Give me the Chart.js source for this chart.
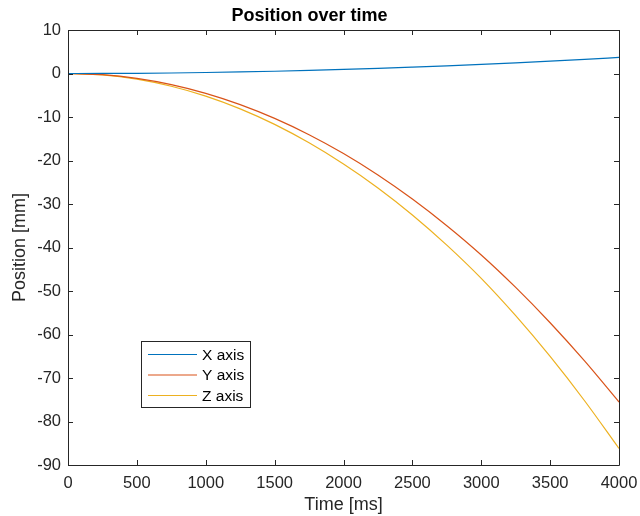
<!DOCTYPE html>
<html>
<head>
<meta charset="utf-8">
<script src="https://cdn.jsdelivr.net/npm/chart.js@4"></script>
<style>
html,body{margin:0;padding:0;background:#fff;}
#wrap{width:640px;height:516px;position:relative;}
</style>
</head>
<body>
<div id="wrap"><canvas id="c" width="640" height="516"></canvas></div>
<script>
const times = [0,250,500,750,1000,1250,1500,1750,2000,2250,2500,2750,3000,3250,3500,3750,4000];
const xAxisPos = [0,0.01,0.05,0.12,0.23,0.36,0.52,0.71,0.93,1.17,1.45,1.75,2.08,2.44,2.83,3.25,3.7];
const yAxisPos = [0,-0.27,-1.12,-2.55,-4.56,-7.15,-10.32,-14.07,-18.4,-23.33,-28.86,-34.99,-41.72,-49.18,-57.3,-66.08,-75.52];
const zAxisPos = [0,-0.33,-1.3,-2.93,-5.2,-8.13,-11.7,-15.93,-20.8,-26.3,-32.51,-39.45,-47.1,-55.68,-65.05,-75.23,-86.2];
const seriesNames = ['X axis','Y axis','Z axis'];
const seriesColors = ['#0072BD','#D95319','#EDB120'];
const xTicks = [0,500,1000,1500,2000,2500,3000,3500,4000];
const yTicks = [10,0,-10,-20,-30,-40,-50,-60,-70,-80,-90];

const axisColor = '#262626';
const FONT = '"Liberation Sans", Arial, Helvetica, sans-serif';

function pts(vals){ return times.map((t,i)=>({x:t,y:vals[i]})); }

const boxPlugin = {
  id:'boxPlugin',
  afterDatasetsDraw(chart){
    const {ctx, chartArea:a, scales} = chart;
    ctx.save();
    ctx.strokeStyle = axisColor;
    ctx.lineWidth = 1;
    ctx.beginPath();
    ctx.rect(Math.round(a.left)+0.5, Math.round(a.top)+0.5, Math.round(a.right-a.left), Math.round(a.bottom-a.top));
    ctx.stroke();
    const tl = 5;
    ctx.beginPath();
    xTicks.forEach(v=>{
      const px = Math.round(scales.x.getPixelForValue(v))+0.5;
      ctx.moveTo(px, a.bottom); ctx.lineTo(px, a.bottom - tl);
      ctx.moveTo(px, a.top); ctx.lineTo(px, a.top + tl);
    });
    yTicks.forEach(v=>{
      const py = Math.round(scales.y.getPixelForValue(v))+0.5;
      ctx.moveTo(a.left, py); ctx.lineTo(a.left + tl, py);
      ctx.moveTo(a.right, py); ctx.lineTo(a.right - tl, py);
    });
    ctx.stroke();
    // legend
    const lx = a.left + 73, ly = 341, lw = 109, lh = 66;
    ctx.fillStyle = '#fff';
    ctx.fillRect(lx, ly, lw, lh);
    ctx.strokeStyle = axisColor;
    ctx.strokeRect(lx+0.5, ly+0.5, lw, lh);
    ctx.font = '15.5px ' + FONT;
    ctx.textBaseline = 'middle';
    ctx.textAlign = 'left';
    seriesNames.forEach((n,i)=>{
      const yy = ly + 13.5 + i*20.5;
      ctx.strokeStyle = seriesColors[i];
      ctx.lineWidth = 1.2;
      ctx.beginPath();
      ctx.moveTo(lx+7, yy); ctx.lineTo(lx+56, yy);
      ctx.stroke();
      ctx.fillStyle = '#000';
      ctx.fillText(n, lx+61, yy+1);
    });
    ctx.restore();
  }
};

new Chart(document.getElementById('c'), {
  type:'line',
  data:{
    datasets:[
      {label:seriesNames[0], data:pts(xAxisPos), borderColor:seriesColors[0]},
      {label:seriesNames[1], data:pts(yAxisPos), borderColor:seriesColors[1]},
      {label:seriesNames[2], data:pts(zAxisPos), borderColor:seriesColors[2]}
    ].map(d=>Object.assign(d,{borderWidth:1.2, pointRadius:0, fill:false, cubicInterpolationMode:'monotone'}))
  },
  options:{
    responsive:false,
    animation:false,
    devicePixelRatio:1,
    layout:{padding:{left:0,right:21,top:0,bottom:0}},
    plugins:{
      legend:{display:false},
      tooltip:{enabled:false},
      title:{display:true, text:'Position over time', color:'#000',
        font:{family:FONT, size:18, weight:'bold'}, padding:{top:5,bottom:3.4}}
    },
    scales:{
      x:{type:'linear', min:0, max:4000,
        afterFit(s){ s.height = 51; s.paddingLeft = 0; s.paddingRight = 0; },
        afterBuildTicks(s){ s.ticks = xTicks.map(v=>({value:v})); },
        grid:{display:false, drawTicks:false}, border:{display:false},
        ticks:{color:axisColor, padding:9, maxRotation:0, autoSkip:false, font:{family:FONT,size:16.5},
          callback:(v)=>String(v)},
        title:{display:true, text:'Time [ms]', color:axisColor, font:{family:FONT,size:18}, padding:{top:0,bottom:0}}
      },
      y:{type:'linear', min:-90, max:10,
        afterFit(s){ s.width = 68; s.paddingTop = 0; s.paddingBottom = 0; },
        afterBuildTicks(s){ s.ticks = yTicks.map(v=>({value:v})); },
        grid:{display:false, drawTicks:false}, border:{display:false},
        ticks:{color:axisColor, padding:7, autoSkip:false, font:{family:FONT,size:16.5},
          callback:(v)=>String(v)},
        title:{display:true, text:'Position [mm]', color:axisColor, font:{family:FONT,size:18}, padding:{top:9,bottom:0}}
      }
    }
  },
  plugins:[boxPlugin]
});
</script>
</body>
</html>
